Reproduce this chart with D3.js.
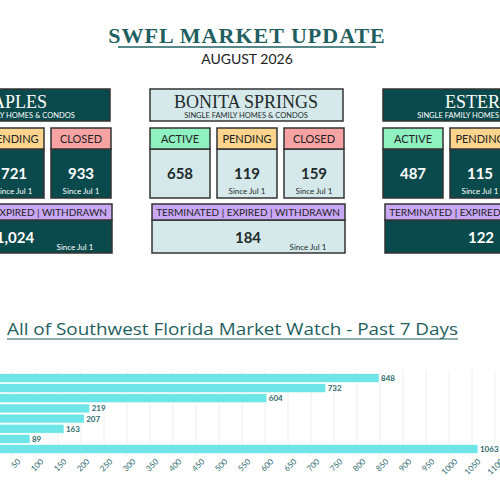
<!DOCTYPE html>
<html><head><meta charset="utf-8">
<script src="https://cdn.jsdelivr.net/npm/d3@7"></script>
<style>body{margin:0;background:#fff}svg{display:block}</style>
</head><body>
<svg id="c" width="500" height="500"></svg>
<script>
const markets = ['NAPLES', 'BONITA SPRINGS', 'ESTERO'];
const marketX = [-83, 150, 383];
const marketDark = [true, false, true];
const activeVals = ['', '658', '487'];
const pendingVals = ['721', '119', '115'];
const closedVals = ['933', '159', ''];
const tewVals = ['1,024', '184', '122'];
const barValues = [848, 732, 604, 219, 207, 163, 89, 1063];
const barLabels = ['848', '732', '604', '219', '207', '163', '89', '1063'];
const xTicks = d3.range(50, 1101, 50);

const svg = d3.select('#c');
const teal = '#0b4a4c', light = '#d5e8ea', ink = '#1d2b2b';
const sans = 'Lato, "Open Sans", sans-serif', serif = '"Liberation Serif", "DejaVu Serif", serif';

svg.append('text').attr('x', 247).attr('y', 43).attr('text-anchor', 'middle')
  .attr('font-family', serif).attr('font-weight', 'bold').attr('font-size', 22)
  .attr('fill', '#1f5f60').attr('letter-spacing', 1).text('SWFL MARKET UPDATE');
svg.append('line').attr('x1', 118).attr('x2', 376).attr('y1', 47).attr('y2', 47)
  .attr('stroke', '#1f5f60').attr('stroke-width', 1.5);
svg.append('text').attr('x', 247).attr('y', 64).attr('text-anchor', 'middle')
  .attr('font-family', sans).attr('font-size', 14).attr('fill', '#222').text('AUGUST 2026');

function box(g, x, y, w, h, fill) {
  g.append('rect').attr('x', x).attr('y', y).attr('width', w).attr('height', h)
    .attr('fill', fill).attr('stroke', '#333').attr('stroke-width', 1.5);
}
function txt(g, x, y, s, size, fill, opts = {}) {
  g.append('text').attr('x', x).attr('y', y).attr('text-anchor', opts.anchor || 'middle')
    .attr('font-family', opts.font || sans).attr('font-weight', opts.bold ? 'bold' : 'normal')
    .attr('font-size', size).attr('fill', fill).text(s);
}

markets.forEach((m, i) => {
  const g = svg.append('g').attr('transform', `translate(${marketX[i]},0)`);
  const bg = marketDark[i] ? teal : light, fg = marketDark[i] ? '#fff' : ink;
  box(g, 0, 89, 193, 32, bg);
  txt(g, 96, 108, m, 18, fg, {font: serif});
  txt(g, 96, 118, 'SINGLE FAMILY HOMES & CONDOS', 7.5, fg);
  const cells = [['ACTIVE', '#8ff0c0', activeVals[i], false],
                 ['PENDING', '#fcd48e', pendingVals[i], true],
                 ['CLOSED', '#f7a3a3', closedVals[i], true]];
  cells.forEach((c, j) => {
    const x = j * 67;
    box(g, x, 149, 60, 49, bg);
    box(g, x, 128, 60, 21, c[1]);
    txt(g, x + 30, 143, c[0], 11, '#222');
    txt(g, x + 30, 179, c[2], 15, fg, {bold: true});
    if (c[3]) txt(g, x + 30, 194, 'Since Jul 1', 8, fg);
  });
  box(g, 2, 220, 193, 33, bg);
  box(g, 2, 204, 193, 16, '#c9a7f5');
  txt(g, 98, 216, 'TERMINATED | EXPIRED | WITHDRAWN', 10, '#222');
  txt(g, 98, 243, tewVals[i], 15, fg, {bold: true});
  txt(g, 158, 250, 'Since Jul 1', 8, fg);
});

svg.append('text').attr('x', 7).attr('y', 335)
  .attr('font-family', '"Open Sans", sans-serif').attr('font-size', 17)
  .attr('fill', '#1f5f60').attr('textLength', 451).attr('lengthAdjust', 'spacingAndGlyphs')
  .text('All of Southwest Florida Market Watch - Past 7 Days');
svg.append('line').attr('x1', 7).attr('x2', 458).attr('y1', 339).attr('y2', 339)
  .attr('stroke', '#1f5f60').attr('stroke-width', 1.2);

const x = d3.scaleLinear().domain([0, 1100]).range([-11, 495]);
const y = d3.scaleBand().domain(d3.range(barValues.length)).range([373, 454]).paddingInner(0.12).paddingOuter(0.05);

const chart = svg.append('g');
chart.selectAll('.grid').data(xTicks).enter().append('line')
  .attr('x1', d => x(d)).attr('x2', d => x(d)).attr('y1', 370).attr('y2', 456)
  .attr('stroke', '#eee');
chart.selectAll('.bar').data(barValues).enter().append('rect')
  .attr('x', x(0)).attr('y', (d, i) => y(i)).attr('width', d => x(d) - x(0))
  .attr('height', y.bandwidth()).attr('fill', '#6ee6e8').attr('stroke', '#fff').attr('stroke-width', 0.6);
chart.selectAll('.lab').data(barValues).enter().append('text')
  .attr('x', d => x(d) + 2).attr('y', (d, i) => y(i) + y.bandwidth() / 2 + 3)
  .attr('font-family', sans).attr('font-weight', 'bold').attr('font-size', 8).attr('fill', '#2e6b6e')
  .text((d, i) => barLabels[i]);

const ax = chart.append('g').attr('transform', 'translate(0,458)')
  .call(d3.axisBottom(x).tickValues(xTicks).tickFormat(d3.format('d')).tickSize(0).tickPadding(4));
ax.select('.domain').remove();
ax.selectAll('text').attr('font-family', sans).attr('font-size', 8).attr('fill', '#2e6b6e')
  .attr('text-anchor', 'end').attr('transform', 'rotate(-45)').attr('dx', 3).attr('dy', 5);
</script>
</body></html>
